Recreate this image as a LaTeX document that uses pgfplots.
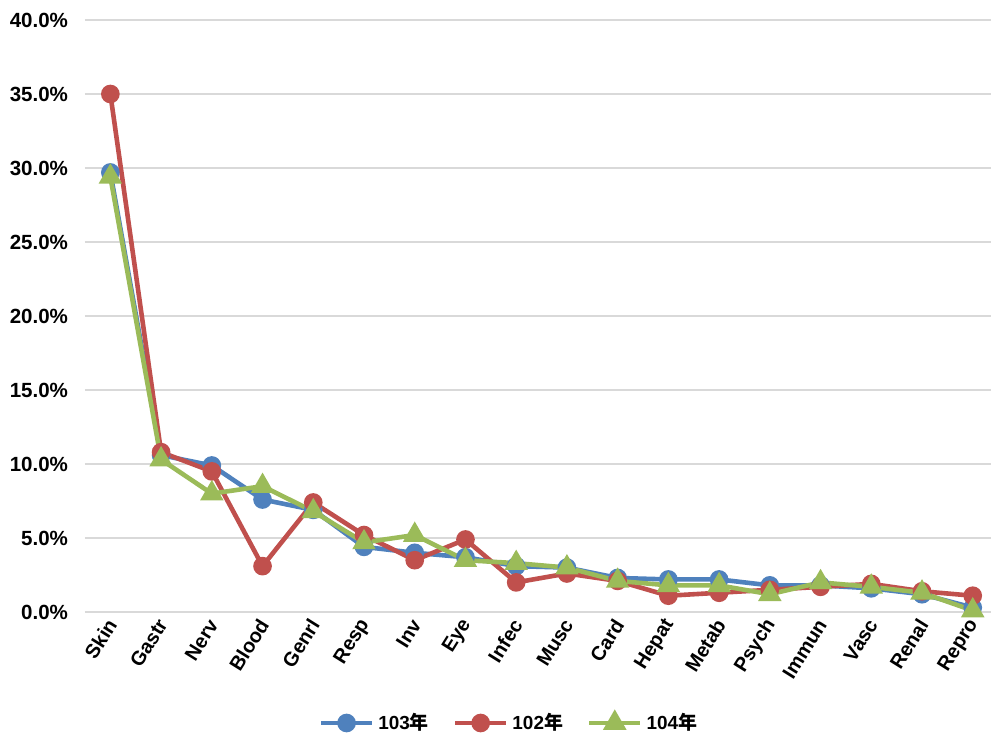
\documentclass[border=0pt]{standalone}
\usepackage{fontspec}
\setmainfont{Liberation Sans}
\newfontfamily\cjk{Noto Sans CJK TC}
\usepackage{pgfplots}
\pgfplotsset{compat=1.18}
\definecolor{c103}{HTML}{4F81BD}
\definecolor{c102}{HTML}{C0504D}
\definecolor{c104}{HTML}{9BBB59}
\definecolor{gridgray}{HTML}{D9D9D9}

\begin{document}
\begin{tikzpicture}
\useasboundingbox (-42.5bp,-62.5bp) rectangle (453bp,306bp);
\begin{axis}[
  scale only axis,
  width=453bp, height=296bp,
  xmin=-0.5, xmax=17.36,
  ymin=0, ymax=40,
  ytick={0,5,...,40},
  xtick={0,...,17},
  xticklabels={Skin,Gastr,Nerv,Blood,Genrl,Resp,Inv,Eye,Infec,Musc,Card,Hepat,Metab,Psych,Immun,Vasc,Renal,Repro},
  /pgf/number format/assume math mode=true,
  yticklabel={\pgfmathprintnumber[fixed,fixed zerofill,precision=1]{\tick}\%},
  yticklabel style={font=\fontsize{10.3}{12}\selectfont\bfseries, xshift=-5bp},
  xticklabel style={font=\fontsize{10}{12}\selectfont\bfseries, rotate=58, anchor=east, yshift=-3bp},
  tick style={draw=none},
  axis line style={draw=none},
  ymajorgrids,
  grid style={gridgray, line width=1bp},
  clip=false,
  legend columns=3,
  legend style={draw=none, at={(0.469,-0.1875)}, anchor=center,
    font=\fontsize{9.5}{11}\selectfont\bfseries,
    /tikz/every even column/.append style={column sep=10bp}},
  legend image code/.code={\draw[mark repeat=2,mark phase=2,#1] plot coordinates {(0cm,0cm) (0.45cm,0cm) (0.9cm,0cm)};},
  every axis plot/.append style={line width=2.3bp},
]
\addplot[color=c103, mark=*, mark size=3.5bp, mark options={solid}] coordinates {
 (0,29.7) (1,10.6) (2,9.9) (3,7.6) (4,6.9) (5,4.4) (6,4.0) (7,3.7) (8,3.1)
 (9,3.0) (10,2.3) (11,2.2) (12,2.2) (13,1.8) (14,1.8) (15,1.6) (16,1.2) (17,0.3)};
\addlegendentry{103{\cjk 年}}
\addplot[color=c102, mark=*, mark size=3.5bp, mark options={solid}] coordinates {
 (0,35.0) (1,10.8) (2,9.5) (3,3.1) (4,7.4) (5,5.2) (6,3.5) (7,4.9) (8,2.0)
 (9,2.6) (10,2.1) (11,1.1) (12,1.3) (13,1.5) (14,1.7) (15,1.9) (16,1.4) (17,1.1)};
\addlegendentry{102{\cjk 年}}
\addplot[color=c104, mark=triangle*, mark size=4.5bp, mark options={solid}] coordinates {
 (0,29.4) (1,10.3) (2,8.0) (3,8.5) (4,6.8) (5,4.7) (6,5.2) (7,3.5) (8,3.3)
 (9,3.0) (10,2.1) (11,1.8) (12,1.8) (13,1.2) (14,2.0) (15,1.7) (16,1.3) (17,0.1)};
\addlegendentry{104{\cjk 年}}
\end{axis}
\end{tikzpicture}
\end{document}
